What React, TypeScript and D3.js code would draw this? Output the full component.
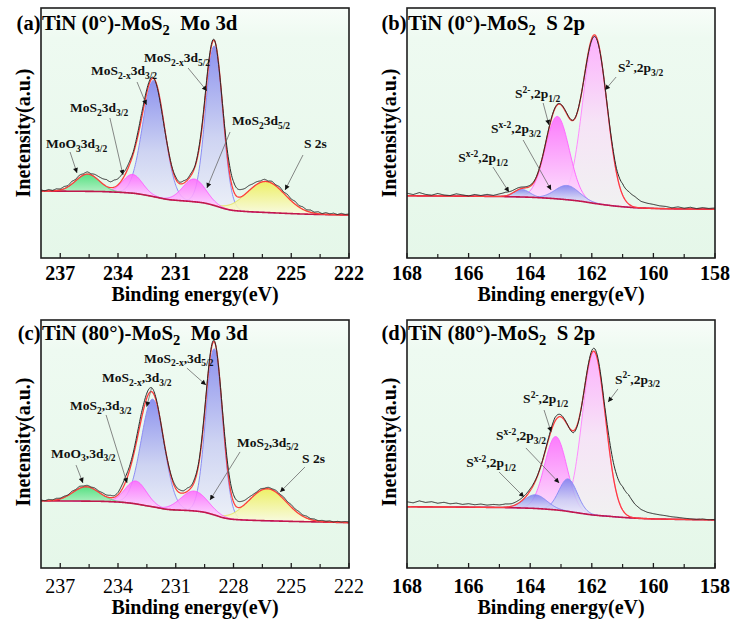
import React from 'react';
import * as d3 from 'd3';

// ---------------- data ----------------
const mo3dMajorTicks = [237, 234, 231, 228, 225, 222];
const mo3dMinorTicks = [235.5, 232.5, 229.5, 226.5, 223.5];
const s2pMajorTicks = [168, 166, 164, 162, 160, 158];
const s2pMinorTicks = [167, 165, 163, 161, 159];

const panelLetters = ['(a)', '(b)', '(c)', '(d)'];
const panelTitles = [
  'TiN (0°)-MoS_{2}  Mo 3d',
  'TiN (0°)-MoS_{2}  S 2p',
  'TiN (80°)-MoS_{2}  Mo 3d',
  'TiN (80°)-MoS_{2}  S 2p',
];
const xAxisTitle = 'Binding energy(eV)';
const yAxisTitle = 'Inetensity(a.u.)';

// Shirley backgrounds: [binding energy, intensity]
const bgA = [[238, 26.8], [235, 26.6], [234, 26.3], [233.2, 25.9], [232.6, 25.2], [232, 24.3], [231.4, 23.4], [230.2, 22.6], [229.6, 22.1], [229, 21.0], [228.5, 19.8], [228, 19.0], [226, 18.1], [224, 17.5], [222, 17.2]];
const bgB = [[168, 24.9], [165, 24.6], [164, 24.3], [163.4, 23.9], [162.8, 23.3], [162.3, 22.6], [161.9, 21.8], [161.4, 21.0], [161, 20.5], [160.4, 20.0], [159.5, 19.7], [158, 19.5]];
const bgC = [[238, 27.1], [235, 26.9], [234, 26.6], [233.2, 26.0], [232.6, 25.2], [232, 24.4], [231.4, 23.6], [230.2, 23.1], [229.6, 22.6], [229, 21.4], [228.5, 20.2], [228, 19.6], [226, 19.0], [222, 18.3]];
const bgD = [[168, 24.7], [165, 24.4], [164, 24.1], [163.45, 23.7], [163, 23.2], [162.6, 22.5], [161.9, 21.3], [161.4, 20.8], [161, 20.4], [160, 19.8], [158, 19.4]];

// fitted components
const peaksA = [
  { name: 'MoS2-x 3d5/2', center: 229.0, height: 63.8, fwhm: 1.04 },
  { name: 'MoS2-x 3d3/2', center: 232.15, height: 46.5, fwhm: 1.34 },
  { name: 'S 2s', center: 226.32, height: 12.4, fwhm: 2.33 },
  { name: 'MoS2 3d5/2', center: 230.04, height: 9.1, fwhm: 1.39 },
  { name: 'MoS2 3d3/2', center: 233.24, height: 7.5, fwhm: 1.21 },
  { name: 'MoO3 3d3/2', center: 235.58, height: 6.9, fwhm: 1.45 },
];
const peaksB = [
  { name: 'S2- 2p3/2', center: 161.9, height: 66.8, fwhm: 0.92 },
  { name: 'S2- 2p1/2', center: 163.12, height: 33, fwhm: 0.92 },
  { name: 'Sx-2 2p3/2', center: 162.8, height: 5.7, fwhm: 0.92 },
  { name: 'Sx-2 2p1/2', center: 164.27, height: 3.0, fwhm: 0.6 },
];
const peaksC = [
  { name: 'MoS2-x 3d5/2', center: 229.0, height: 67, fwhm: 1.01 },
  { name: 'MoS2-x 3d3/2', center: 232.2, height: 43.4, fwhm: 1.39 },
  { name: 'S 2s', center: 226.24, height: 12.9, fwhm: 2.3 },
  { name: 'MoS2 3d5/2', center: 230.04, height: 8.0, fwhm: 1.64 },
  { name: 'MoS2 3d3/2', center: 233.07, height: 9.2, fwhm: 1.3 },
  { name: 'MoO3 3d3/2', center: 235.66, height: 5.8, fwhm: 1.6 },
];
const peaksD = [
  { name: 'S2- 2p3/2', center: 161.93, height: 65.8, fwhm: 0.88 },
  { name: 'S2- 2p1/2', center: 163.17, height: 29.6, fwhm: 0.85 },
  { name: 'Sx-2 2p3/2', center: 162.77, height: 13.1, fwhm: 0.7 },
  { name: 'Sx-2 2p1/2', center: 163.83, height: 5.5, fwhm: 0.87 },
];

// measured minus fit (residuals), every 0.2 eV from the high-BE end
const residualA = [
  0.4, 0.1, 0.6, 0.2, 0.7, 0.4, 0.9, 0.5, 1.1, 0.6,
  1.0, 0.5, 0.9, 0.4, 1.1, 1.5, 2.0, 2.7, 2.3, 2.9,
  2.4, 2.3, 1.5, 1.3, 0.8, 1.5, 2.0, 1.6, 1.1, 0.4,
  -0.4, -0.9, -0.6, 0.3, 0.5, 0.9, 0.6, 1.0, 0.5, 0.9,
  0.4, 1.0, 1.3, 1.6, 0.9, 0.3, -0.6, 0.2, 1.7, 3.2,
  3.7, 3.2, 2.9, 2.3, 2.1, 1.4, 1.1, 0.6, 0.9, 0.3,
  0.8, 0.4, 1.0, 0.5, 1.1, 0.7, 1.2, 0.6, 1.0, 0.5,
  0.9, 0.4, 0.8, 0.2, 0.7, 0.3, 0.6, 0.1, 0.6, 0.2,
  0.4,
];
const residualB = [
  1.0, 0.5, 1.3, 0.6, 0.3, 1.0, 0.4, 0.2, 0.9, 0.5,
  0.1, 0.7, 0.3, 0.8, 0.4, 1.0, 1.4, 1.0, 0.8, 0.4,
  0.5, 0.3, 0.2, 0.4, 0.3, 0.2, 0.4, 0.1, 0.3, -0.2,
  -0.7, -0.6, 0.2, 0.7, 1.7, 4.5, 5.0, 4.2, 2.6, 2.0,
  1.6, 1.1, 0.9, 0.4, 0.8, 0.3, 0.7, 0.2, 0.6, 0.3,
  0.5,
];
const residualC = [
  0.3, 0.0, 0.5, 0.2, 0.6, 0.3, 0.5, 0.2, 0.7, 0.4,
  0.8, 0.4, 0.6, 0.3, 0.7, 0.5, 0.8, 0.7, 1.0, 0.6,
  0.9, 1.8, 2.2, 1.6, 1.5, 2.0, 2.4, 2.0, 1.8, 1.5,
  0.8, 0.0, -0.5, 0.2, 0.6, 1.0, 1.2, 0.9, 1.3, 0.8,
  1.1, 0.8, 1.4, 1.2, 0.9, 0.5, -0.3, 0.6, 2.2, 2.8,
  2.9, 2.6, 2.2, 1.6, 1.3, 0.8, 0.5, 0.7, 0.3, 0.6,
  0.4, 0.7, 0.5, 0.9, 0.6, 1.0, 0.7, 0.9, 0.5, 0.8,
  0.4, 0.6, 0.2, 0.5, 0.3, 0.5, 0.1, 0.4, 0.2, 0.4,
  0.3,
];
const residualD = [
  2.0, 1.6, 2.4, 1.8, 2.1, 1.5, 1.9, 1.3, 1.6, 1.1,
  1.4, 1.0, 1.3, 0.9, 1.2, 1.0, 1.3, 1.0, 1.1, 1.0,
  0.8, 0.3, 0.2, 0.6, 1.5, 0.8, 0.2, -0.8, -0.4, 0.3,
  1.0, 1.4, 1.5, 4.5, 7.5, 9.5, 8.5, 5.5, 3.6, 2.6,
  2.1, 1.7, 1.4, 1.0, 0.8, 0.5, 0.3, 0.1, 0.3, 0.0,
  0.2,
];

// annotations: label, text anchor [BE, I], leader from [BE, I] to [BE, I]
const annotA = [
  { label: 'MoS_{2-x}3d_{5/2}', pos: [232.65, 78.4], from: [230.36, 76], to: [229.38, 66.8] },
  { label: 'MoS_{2-x}3d_{3/2}', pos: [235.4, 73.2], from: [233.01, 70.4], to: [232.52, 61.2] },
  { label: 'MoS_{2}3d_{3/2}', pos: [236.49, 58.4], from: [234.42, 56], to: [233.74, 33.2] },
  { label: 'MoS_{2}3d_{5/2}', pos: [228.08, 53.2], from: [228.18, 50.4], to: [229.38, 28] },
  { label: 'MoO_{3}3d_{3/2}', pos: [237.74, 44], from: [236.49, 42.4], to: [236.13, 34] },
  { label: 'S 2s', pos: [224.34, 44], from: [224.39, 41.2], to: [225.32, 27.2] },
];
const annotB = [
  { label: 'S^{2-},2p_{3/2}', pos: [161.15, 74.4], from: [161.21, 72.4], to: [161.57, 67.2] },
  { label: 'S^{2-},2p_{1/2}', pos: [164.49, 64], from: [163.58, 62], to: [163.39, 53.2] },
  { label: 'S^{x-2},2p_{3/2}', pos: [165.27, 50], from: [164.23, 47.2], to: [163.32, 27.2] },
  { label: 'S^{x-2},2p_{1/2}', pos: [166.34, 38.4], from: [165.21, 36.4], to: [164.69, 26.4] },
];
const annotC = [
  { label: 'MoS_{2-x},3d_{5/2}', pos: [232.65, 82.7], from: [230.42, 80.6], to: [229.43, 73.8] },
  { label: 'MoS_{2-x},3d_{3/2}', pos: [234.83, 75], from: [232.25, 72.9], to: [232.51, 65.0] },
  { label: 'MoS_{2},3d_{3/2}', pos: [236.49, 63.7], from: [234.62, 61.7], to: [233.53, 34.3] },
  { label: 'MoS_{2},3d_{5/2}', pos: [227.82, 48.8], from: [227.66, 46.8], to: [229.22, 27.4] },
  { label: 'MoO_{3},3d_{3/2}', pos: [237.48, 44.4], from: [236.18, 41.5], to: [235.82, 34.3] },
  { label: 'S 2s', pos: [224.44, 42.3], from: [224.29, 40.7], to: [225.58, 30.6] },
];
const annotD = [
  { label: 'S^{2-},2p_{3/2}', pos: [161.25, 74.2], from: [161.15, 72.2], to: [161.47, 66.9] },
  { label: 'S^{2-},2p_{1/2}', pos: [164.23, 66.5], from: [163.55, 63.7], to: [163.32, 54.8] },
  { label: 'S^{x-2},2p_{3/2}', pos: [165.11, 51.6], from: [164.14, 48.4], to: [163.06, 34.3] },
  { label: 'S^{x-2},2p_{1/2}', pos: [166.08, 40.7], from: [165.01, 38.7], to: [164.2, 28.6] },
];

const panelData = [
  { domain: [238, 222], major: mo3dMajorTicks, minor: mo3dMinorTicks, bg: bgA, peaks: peaksA, res: residualA, annots: annotA },
  { domain: [168, 158], major: s2pMajorTicks, minor: s2pMinorTicks, bg: bgB, peaks: peaksB, res: residualB, annots: annotB },
  { domain: [238, 222], major: mo3dMajorTicks, minor: mo3dMinorTicks, bg: bgC, peaks: peaksC, res: residualC, annots: annotC },
  { domain: [168, 158], major: s2pMajorTicks, minor: s2pMinorTicks, bg: bgD, peaks: peaksD, res: residualD, annots: annotD },
];

// ---------------- layout & style ----------------
const FONT = "'Liberation Serif', 'Times New Roman', Times, serif";
const layout = [
  { left: 41, top: 8, width: 308, height: 250, tickY: 280, titleY: 301, headY: 29.5, labelY: 133, tickBold: true },
  { left: 407, top: 8, width: 308, height: 250, tickY: 280, titleY: 301, headY: 29.5, labelY: 133, tickBold: true },
  { left: 41, top: 320, width: 308, height: 248, tickY: 593, titleY: 614, headY: 339.5, labelY: 442, tickBold: false },
  { left: 407, top: 320, width: 308, height: 248, tickY: 593, titleY: 614, headY: 339.5, labelY: 442, tickBold: true },
];

const componentStyle: Record<string, { grad: string; stroke: string }> = {
  'MoS2-x 3d5/2': { grad: 'gBlue', stroke: '#8c8cf6' },
  'MoS2-x 3d3/2': { grad: 'gBlue', stroke: '#8c8cf6' },
  'S 2s': { grad: 'gYellow', stroke: '#e4e45c' },
  'MoS2 3d5/2': { grad: 'gPink', stroke: '#ff5cff' },
  'MoS2 3d3/2': { grad: 'gPink', stroke: '#ff5cff' },
  'MoO3 3d3/2': { grad: 'gGreen', stroke: '#4fd478' },
  'S2- 2p3/2': { grad: 'gPinkPale', stroke: '#ff8cff' },
  'S2- 2p1/2': { grad: 'gPink', stroke: '#ff6cff' },
  'Sx-2 2p3/2': { grad: 'gBlue', stroke: '#8c8cf6' },
  'Sx-2 2p1/2': { grad: 'gBlue', stroke: '#8c8cf6' },
};

function makeMonotone(pts: number[][]) {
  const s = [...pts].sort((a, b) => a[0] - b[0]);
  const xs = s.map(p => p[0]);
  const ys = s.map(p => p[1]);
  const n = xs.length;
  const d: number[] = [];
  for (let i = 0; i < n - 1; i++) d.push((ys[i + 1] - ys[i]) / (xs[i + 1] - xs[i]));
  const m: number[] = new Array(n).fill(0);
  m[0] = d[0];
  m[n - 1] = d[n - 2];
  for (let i = 1; i < n - 1; i++) {
    if (d[i - 1] * d[i] <= 0) m[i] = 0;
    else {
      const h0 = xs[i] - xs[i - 1], h1 = xs[i + 1] - xs[i];
      const w1 = 2 * h1 + h0, w2 = h1 + 2 * h0;
      m[i] = (w1 + w2) / (w1 / d[i - 1] + w2 / d[i]);
    }
  }
  return (x: number) => {
    if (x <= xs[0]) return ys[0];
    if (x >= xs[n - 1]) return ys[n - 1];
    const i = Math.min(n - 2, d3.bisectRight(xs, x) - 1);
    const h = xs[i + 1] - xs[i];
    const t = (x - xs[i]) / h;
    const t2 = t * t, t3 = t2 * t;
    return (2 * t3 - 3 * t2 + 1) * ys[i] + (t3 - 2 * t2 + t) * h * m[i] + (-2 * t3 + 3 * t2) * ys[i + 1] + (t3 - t2) * h * m[i + 1];
  };
}

const gauss = (p: { center: number; height: number; fwhm: number }, e: number) =>
  p.height * Math.exp(-4 * Math.LN2 * ((e - p.center) / p.fwhm) ** 2);

function rich(s: string, size: number, small: number, subDy: number, supDy: number) {
  const parts = s.split(/(_\{[^}]*\}|\^\{[^}]*\})/).filter(p => p.length > 0);
  let offset = 0;
  return parts.map((p, i) => {
    if (p.startsWith('_{')) {
      const dy = subDy - offset;
      offset = subDy;
      return <tspan key={i} dy={dy} fontSize={small}>{p.slice(2, -1)}</tspan>;
    }
    if (p.startsWith('^{')) {
      const dy = -supDy - offset;
      offset = -supDy;
      return <tspan key={i} dy={dy} fontSize={small}>{p.slice(2, -1)}</tspan>;
    }
    const dy = -offset;
    offset = 0;
    return <tspan key={i} dy={dy} fontSize={size}>{p}</tspan>;
  });
}

function Panel({ idx }: { idx: number }) {
  const L = layout[idx];
  const D = panelData[idx];
  const x = d3.scaleLinear().domain(D.domain).range([L.left, L.left + L.width]);
  const y = d3.scaleLinear().domain([0, 100]).range([L.top + L.height, L.top]);
  const bgF = makeMonotone(D.bg);
  const hi = D.domain[0], lo = D.domain[1];
  const resE = D.res.map((_, i) => hi - i * 0.2);
  const resF = d3.scaleLinear().domain(resE).range(D.res).clamp(true);
  const step = 0.025;
  const grid = d3.range(0, Math.round((hi - lo) / step) + 1).map(i => hi - i * step);
  const fit = (e: number) => bgF(e) + d3.sum(D.peaks, p => gauss(p, e));

  const line = d3.line<number[]>().x(d => x(d[0])).y(d => y(d[1]));
  const bgPath = line(grid.map(e => [e, bgF(e)]));
  const envPath = line(grid.map(e => [e, fit(e)]));
  const rawPath = line(grid.map(e => [e, fit(e) + resF(e)]));

  const order = [...D.peaks].sort((a, b) => b.height - a.height);
  const area = d3.area<number[]>().x(d => x(d[0])).y0(d => y(d[1])).y1(d => y(d[2]));
  const comps = order.map(p => {
    const pts = grid.filter(e => Math.abs(e - p.center) < 3.0 * p.fwhm).map(e => [e, bgF(e), bgF(e) + gauss(p, e)]);
    return { p, area: area(pts), top: line(pts.map(q => [q[0], q[2]])) };
  });

  const cx = L.left + L.width / 2;
  const tickWeight = L.tickBold ? 'bold' : 'normal';
  const bottom = L.top + L.height;

  return (
    <g>
      <clipPath id={`clip${idx}`}>
        <rect x={L.left} y={L.top} width={L.width} height={L.height} />
      </clipPath>
      <rect x={L.left} y={L.top} width={L.width} height={L.height} fill="url(#gPlot)" />
      <g clipPath={`url(#clip${idx})`}>
        {comps.map((c, i) => {
          const st = componentStyle[c.p.name];
          return (
            <g key={i}>
              <path d={c.area || ''} fill={`url(#${st.grad})`} fillOpacity={0.85} />
              <path d={c.top || ''} fill="none" stroke={st.stroke} strokeWidth={1} />
            </g>
          );
        })}
        <path d={bgPath || ''} fill="none" stroke="#c2164c" strokeWidth={1.6} />
        <path d={envPath || ''} fill="none" stroke="#ff3d3d" strokeWidth={1.3} />
        <path d={rawPath || ''} fill="none" stroke="#2a2a2a" strokeWidth={1} />
      </g>
      {D.annots.map((a, i) => (
        <g key={i}>
          <line x1={x(a.from[0])} y1={y(a.from[1])} x2={x(a.to[0])} y2={y(a.to[1])} stroke="#6a6a6a" strokeWidth={0.8} markerEnd="url(#arrow)" />
          <text x={x(a.pos[0])} y={y(a.pos[1])} fontSize={13.5} fontWeight="bold" fill="#111" style={{ whiteSpace: 'pre' }}>
            {rich(a.label, 13.5, 9.5, 3.5, 5.5)}
          </text>
        </g>
      ))}
      <rect x={L.left} y={L.top} width={L.width} height={L.height} fill="none" stroke="#1e1e1e" strokeWidth={1.6} />
      {D.major.map(t => (
        <g key={`M${t}`}>
          <line x1={x(t)} x2={x(t)} y1={bottom} y2={bottom - 5} stroke="#1e1e1e" strokeWidth={1.3} />
          <text x={x(t)} y={L.tickY} textAnchor="middle" fontSize={20} fontWeight={tickWeight} fill="#000">{t}</text>
        </g>
      ))}
      {D.minor.map(t => (
        <line key={`m${t}`} x1={x(t)} x2={x(t)} y1={bottom} y2={bottom - 4} stroke="#1e1e1e" strokeWidth={1.2} />
      ))}
      <text x={cx} y={L.titleY} textAnchor="middle" fontSize={20} fontWeight="bold" fill="#000">{xAxisTitle}</text>
      <text transform={`translate(${L.left - 11},${L.labelY}) rotate(-90)`} textAnchor="middle" fontSize={20} fontWeight="bold" fill="#000">{yAxisTitle}</text>
      <text x={L.left - 0.5} y={L.headY} textAnchor="end" fontSize={20.5} fontWeight="bold" fill="#000">{panelLetters[idx]}</text>
      <text x={L.left + 1} y={L.headY} fontSize={20.8} fontWeight="bold" fill="#000" style={{ whiteSpace: 'pre' }}>
        {rich(panelTitles[idx], 20.8, 14.5, 5, 7)}
      </text>
    </g>
  );
}

export default function App() {
  return (
    <svg width={732} height={622} viewBox="0 0 732 622" fontFamily={FONT}
      style={{ position: 'absolute', left: 0, top: 0, background: '#ffffff', display: 'block' }}>
      <defs>
        <linearGradient id="gPlot" x1="0" y1="0" x2="0" y2="1">
          <stop offset="0" stopColor="#f8fdf9" />
          <stop offset="0.12" stopColor="#eefaf1" />
          <stop offset="1" stopColor="#e5f7e9" />
        </linearGradient>
        <linearGradient id="gBlue" x1="0" y1="0" x2="0" y2="1">
          <stop offset="0" stopColor="#7c80ee" />
          <stop offset="0.55" stopColor="#c9cdf3" />
          <stop offset="1" stopColor="#eef0fa" />
        </linearGradient>
        <linearGradient id="gPink" x1="0" y1="0" x2="0" y2="1">
          <stop offset="0" stopColor="#ff66ff" />
          <stop offset="1" stopColor="#ffe8ff" />
        </linearGradient>
        <linearGradient id="gPinkPale" x1="0" y1="0" x2="0" y2="1">
          <stop offset="0" stopColor="#ffa4ff" />
          <stop offset="0.5" stopColor="#f8e0f8" />
          <stop offset="1" stopColor="#f2f0f2" />
        </linearGradient>
        <linearGradient id="gGreen" x1="0" y1="0" x2="0" y2="1">
          <stop offset="0" stopColor="#3ddc70" />
          <stop offset="1" stopColor="#d8f7dd" />
        </linearGradient>
        <linearGradient id="gYellow" x1="0" y1="0" x2="0" y2="1">
          <stop offset="0" stopColor="#eeee50" />
          <stop offset="1" stopColor="#fbfbe2" />
        </linearGradient>
        <marker id="arrow" viewBox="0 0 10 10" refX="10" refY="5" markerWidth="6" markerHeight="5"
          markerUnits="userSpaceOnUse" orient="auto">
          <path d="M0,0 L10,5 L0,10 z" fill="#111" />
        </marker>
      </defs>
      {layout.map((_, i) => <Panel key={i} idx={i} />)}
    </svg>
  );
}
